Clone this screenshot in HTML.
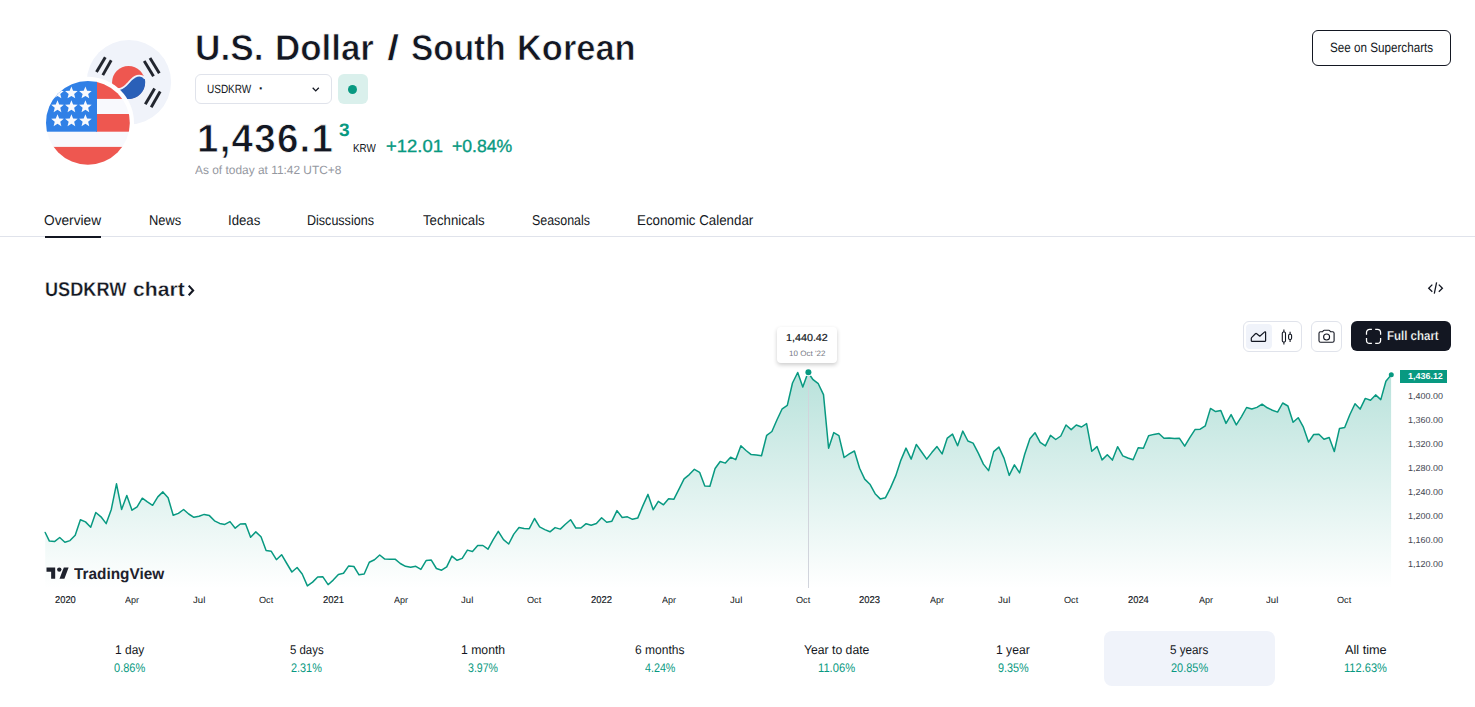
<!DOCTYPE html>
<html lang="en"><head><meta charset="utf-8"><title>USDKRW Chart — U.S. Dollar / South Korean Won</title>
<style>
*{box-sizing:border-box;margin:0;padding:0}
html,body{width:1475px;height:707px;overflow:hidden;background:#fff}
body{position:relative;font-family:"Liberation Sans",sans-serif;color:#131722;text-rendering:geometricPrecision}
.abs{position:absolute;display:block}
.t{position:absolute;white-space:nowrap;line-height:1;display:inline-block;transform-origin:0 0}
.box{position:absolute}
.w{position:absolute;left:0;top:0;width:0;height:0;font-size:0;line-height:0}
</style></head><body>
<header>

<svg class="abs" style="left:0;top:0" width="200" height="190" viewBox="0 0 200 190">
 <defs>
  <clipPath id="kc"><circle cx="128.9" cy="82.2" r="42.2"/></clipPath>
  <clipPath id="uc"><circle cx="87.9" cy="122.9" r="41.9"/></clipPath>
 </defs>
 <g clip-path="url(#kc)">
  <rect x="80" y="35" width="100" height="100" fill="#f0f3fa"/>
  <circle cx="128.5" cy="82.3" r="16.4" fill="#ee5750"/>
  <path d="M144.9,78.9 A16.4,16.4 0 0 1 112.1,85.7 C113,88 116.5,89.6 120.2,88.8 C124.3,87.9 126.2,85.2 128.6,82.5 C131,79.8 133.2,77 137.2,75.9 C140.5,75 144,76.5 144.9,78.9 Z" fill="#2a60b8"/>
  <path d="M144.9,78.9 C144,76.5 140.5,75 137.2,75.9 C133.2,77 131,79.8 128.6,82.5 C126.2,85.2 124.3,87.9 120.2,88.8 C116.5,89.6 113,88 112.1,85.7" fill="none" stroke="#f0f3fa" stroke-width="1.8"/>
  <line x1="144.2" y1="60.9" x2="153.5" y2="76.2" stroke="#22262f" stroke-width="2.9"/><line x1="150" y1="58" x2="159.3" y2="73.2" stroke="#22262f" stroke-width="2.9"/><line x1="154.6" y1="88.5" x2="145.3" y2="104.2" stroke="#22262f" stroke-width="2.9"/><line x1="160.2" y1="91.5" x2="151.2" y2="107.2" stroke="#22262f" stroke-width="2.9"/><line x1="105.3" y1="57.2" x2="96.5" y2="72" stroke="#22262f" stroke-width="2.9"/><line x1="111.2" y1="60.3" x2="102.8" y2="75.1" stroke="#22262f" stroke-width="2.9"/>
 </g>
 <circle cx="87.9" cy="122.9" r="46.1" fill="#fff"/>
 <g clip-path="url(#uc)">
  <rect x="40" y="75" width="100" height="100" fill="#f8f9fd"/>
  <rect x="96" y="75" width="50" height="23.9" fill="#ee5750"/>
  <rect x="96" y="114" width="50" height="17.7" fill="#ee5750"/>
  <rect x="40" y="146.9" width="100" height="30" fill="#ee5750"/>
  <rect x="40" y="75" width="57" height="56.7" fill="#3080e6"/>
  <polygon points="57.50,86.40 59.20,90.65 63.78,90.96 60.26,93.90 61.38,98.34 57.50,95.90 53.62,98.34 54.74,93.90 51.22,90.96 55.80,90.65" fill="#f8f9fd"/><polygon points="71.40,86.40 73.10,90.65 77.68,90.96 74.16,93.90 75.28,98.34 71.40,95.90 67.52,98.34 68.64,93.90 65.12,90.96 69.70,90.65" fill="#f8f9fd"/><polygon points="85.40,86.40 87.10,90.65 91.68,90.96 88.16,93.90 89.28,98.34 85.40,95.90 81.52,98.34 82.64,93.90 79.12,90.96 83.70,90.65" fill="#f8f9fd"/><polygon points="57.50,100.20 59.20,104.45 63.78,104.76 60.26,107.70 61.38,112.14 57.50,109.70 53.62,112.14 54.74,107.70 51.22,104.76 55.80,104.45" fill="#f8f9fd"/><polygon points="71.40,100.20 73.10,104.45 77.68,104.76 74.16,107.70 75.28,112.14 71.40,109.70 67.52,112.14 68.64,107.70 65.12,104.76 69.70,104.45" fill="#f8f9fd"/><polygon points="85.40,100.20 87.10,104.45 91.68,104.76 88.16,107.70 89.28,112.14 85.40,109.70 81.52,112.14 82.64,107.70 79.12,104.76 83.70,104.45" fill="#f8f9fd"/><polygon points="57.50,114.20 59.20,118.45 63.78,118.76 60.26,121.70 61.38,126.14 57.50,123.70 53.62,126.14 54.74,121.70 51.22,118.76 55.80,118.45" fill="#f8f9fd"/><polygon points="71.40,114.20 73.10,118.45 77.68,118.76 74.16,121.70 75.28,126.14 71.40,123.70 67.52,126.14 68.64,121.70 65.12,118.76 69.70,118.45" fill="#f8f9fd"/><polygon points="85.40,114.20 87.10,118.45 91.68,118.76 88.16,121.70 89.28,126.14 85.40,123.70 81.52,126.14 82.64,121.70 79.12,118.76 83.70,118.45" fill="#f8f9fd"/>
 </g>
</svg>
<h1 class="w"><span class="t" style="left:194.56px;top:30.00px;font-size:36.0px;font-weight:700;color:#131722;transform:scale(0.9776,1);-webkit-text-stroke:0.7px #fff;">U.S.</span> <span class="t" style="left:275.33px;top:30.00px;font-size:36.0px;font-weight:700;color:#131722;transform:scale(0.9700,1);-webkit-text-stroke:0.7px #fff;">Dollar</span> <span class="t" style="left:386.98px;top:30.00px;font-size:36.0px;font-weight:700;color:#131722;transform:scale(1.2235,1);-webkit-text-stroke:0.7px #fff;">/</span> <span class="t" style="left:410.71px;top:30.00px;font-size:36.0px;font-weight:700;color:#131722;transform:scale(0.9276,1);-webkit-text-stroke:0.7px #fff;">South</span> <span class="t" style="left:517.37px;top:30.00px;font-size:36.0px;font-weight:700;color:#131722;transform:scale(0.9566,1);-webkit-text-stroke:0.7px #fff;">Korean</span></h1>
<div class="box" style="left:195px;top:74px;width:136.500px;height:29.500px;border:1px solid #e0e3eb;border-radius:6px"></div>
<span class="t" style="left:206.87px;top:83.00px;font-size:12px;font-weight:400;color:#131722;transform:scale(0.8327,1);">USDKRW</span><span class="t" style="left:258.7px;top:81px;font-size:14px;font-weight:700;color:#131722">·</span><svg class="abs" style="left:309px;top:83px" width="14" height="12" viewBox="0 0 14 12"><path d="M3.7 4.8l3.05 3.05l3.05-3.05" fill="none" stroke="#131722" stroke-width="1.3"/></svg>
<div class="box" style="left:338px;top:74px;width:30px;height:29.500px;border-radius:6px;background:#daf0ec"></div>
<div class="box" style="left:348.2px;top:84.8px;width:9px;height:9px;border-radius:50%;background:#089981"></div>
<span class="t" style="left:196.58px;top:120.00px;font-size:39.5px;font-weight:700;color:#131722;transform:scale(0.9741,1);-webkit-text-stroke:0.8px #fff;letter-spacing:1.3px;">1,436.1</span><span class="t" style="left:339.27px;top:121.00px;font-size:18px;font-weight:700;color:#089981;transform:scale(1.0629,1);">3</span><span class="t" style="left:352.85px;top:143.00px;font-size:11.6px;font-weight:400;color:#131722;transform:scale(0.8505,1);">KRW</span><span class="w"><span class="t" style="left:386.32px;top:138.00px;font-size:17.7px;font-weight:400;color:#089981;transform:scale(1.0434,1);-webkit-text-stroke:0.35px #089981;">+12.01</span> <span class="t" style="left:452.05px;top:138.00px;font-size:17.7px;font-weight:400;color:#089981;transform:scale(0.9966,1);-webkit-text-stroke:0.35px #089981;">+0.84%</span></span><span class="t" style="left:195.10px;top:164.00px;font-size:12px;font-weight:400;color:#9598a1;transform:scale(0.9925,1);">As of today at 11:42 UTC+8</span>
<div class="box" style="left:1312px;top:30px;width:139px;height:36px;border:1px solid #131722;border-radius:6px"></div>
<span class="t" style="left:1329.95px;top:41.00px;font-size:13.5px;font-weight:400;color:#131722;transform:scale(0.8644,1);">See on Supercharts</span>
</header>
<nav>
<div class="box" style="left:0;top:236px;width:1475px;height:1px;background:#e0e3eb"></div>
<div class="box" style="left:45px;top:236px;width:56px;height:2px;background:#131722"></div>
<a class="t" style="left:44.18px;top:214.00px;font-size:14.2px;font-weight:400;color:#131722;transform:scale(0.9641,1);">Overview</a><a class="t" style="left:148.77px;top:214.00px;font-size:14.2px;font-weight:400;color:#131722;transform:scale(0.9067,1);">News</a><a class="t" style="left:228.14px;top:214.00px;font-size:14.2px;font-weight:400;color:#131722;transform:scale(0.9303,1);">Ideas</a><a class="t" style="left:307.40px;top:214.00px;font-size:14.2px;font-weight:400;color:#131722;transform:scale(0.8838,1);">Discussions</a><a class="t" style="left:422.87px;top:214.00px;font-size:14.2px;font-weight:400;color:#131722;transform:scale(0.9313,1);">Technicals</a><a class="t" style="left:532.24px;top:214.00px;font-size:14.2px;font-weight:400;color:#131722;transform:scale(0.8754,1);">Seasonals</a><a class="t" style="left:637.43px;top:214.00px;font-size:14.2px;font-weight:400;color:#131722;transform:scale(0.9391,1);">Economic Calendar</a>
</nav>
<main>
<h2 class="w"><span class="t" style="left:44.57px;top:280.00px;font-size:20px;font-weight:700;color:#131722;transform:scale(0.9068,1);-webkit-text-stroke:0.3px #fff;">USDKRW</span> <span class="t" style="left:133.34px;top:280.00px;font-size:20px;font-weight:700;color:#131722;transform:scale(1.0568,1);-webkit-text-stroke:0.3px #fff;">chart</span></h2><svg class="abs" style="left:185px;top:281px" width="12" height="18" viewBox="0 0 12 18"><path d="M3.700 4.600L8.100 9.400L3.700 14.200" fill="none" stroke="#131722" stroke-width="2.100"/></svg><svg class="abs" style="left:1425px;top:279px" width="22" height="18" viewBox="0 0 22 18"><path d="M7.300 5.600L3.700 9.200L7.300 12.700M13.800 5.600L17.400 9.200L13.800 12.700M11.600 3.400L9.300 14.600" fill="none" stroke="#131722" stroke-width="1.3"/></svg>
<div class="box" style="left:1243px;top:321px;width:59px;height:30.500px;border:1px solid #e0e3eb;border-radius:6px"></div>
<div class="box" style="left:1246px;top:324px;width:26px;height:24.500px;border-radius:4px;background:#f0f3fa"></div>
<svg class="abs" style="left:1248px;top:326px" width="22" height="22" viewBox="0 0 22 22"><path d="M3.3 14.8V12.3C3.3 11.900 3.500 11.600 3.800 11.300L7.400 7.800C7.800 7.400 8.300 7.400 8.700 7.700L11.800 10.200L16.700 5.900C17.100 5.600 17.600 5.800 17.600 6.300V14.800C17.600 15.100 17.400 15.300 17.100 15.300H3.800C3.500 15.300 3.300 15.100 3.300 14.800Z" fill="none" stroke="#131722" stroke-width="1.2" stroke-linejoin="round"/></svg><svg class="abs" style="left:1276px;top:326px" width="22" height="22" viewBox="0 0 22 22"><g fill="none" stroke="#131722" stroke-width="1.1"><rect x="6.3" y="6" width="3.2" height="10" rx="1.2"/><path d="M7.9 3.5V6M7.9 16v2.5"/><rect x="12.6" y="8.3" width="3" height="5.2" rx="1.2"/><path d="M14.1 5.8v2.5M14.1 13.5V16"/></g></svg>
<div class="box" style="left:1311px;top:321px;width:31px;height:30.500px;border:1px solid #e0e3eb;border-radius:6px"></div>
<svg class="abs" style="left:1315px;top:325px" width="24" height="24" viewBox="0 0 24 24"><g fill="none" stroke="#131722" stroke-width="1.1"><path d="M4 8.3c0-.9.7-1.6 1.6-1.6h2l.8-1.1c.2-.3.5-.4.9-.4h4.500c.4 0 .7.1.9.4l.8 1.100h2c.9 0 1.600.7 1.600 1.600v7.400c0 .9-.7 1.600-1.600 1.600H5.600c-.9 0-1.600-.7-1.600-1.600z"/><circle cx="11.600" cy="12" r="3"/></g></svg>
<div class="box" style="left:1351px;top:321px;width:100px;height:30px;border-radius:6px;background:#131722"></div>
<svg class="abs" style="left:1364px;top:327px" width="19" height="19" viewBox="0 0 19 19"><path d="M2.5 7.700V5.500A3.200 3.200 0 0 1 5.700 2.300H7.900M11.200 2.300H13.400A3.200 3.200 0 0 1 16.600 5.500V7.700M16.600 11V13.200A3.200 3.200 0 0 1 13.400 16.400H11.200M7.900 16.400H5.700A3.200 3.200 0 0 1 2.500 13.200V11" fill="none" stroke="#fff" stroke-width="1.25"/></svg><span class="t" style="left:1386.54px;top:329.00px;font-size:13px;font-weight:700;color:#fff;transform:scale(0.8835,1);-webkit-text-stroke:0.25px #131722;">Full chart</span>
<section>

<svg class="abs" style="left:0;top:0" width="1475" height="707" viewBox="0 0 1475 707">
 <defs>
  <linearGradient id="g" x1="0" y1="362" x2="0" y2="588" gradientUnits="userSpaceOnUse">
   <stop offset="0" stop-color="#089981" stop-opacity="0.30"/>
   <stop offset="1" stop-color="#089981" stop-opacity="0.0"/>
  </linearGradient>
 </defs>
 <path d="M45.2,532.5 L49.4,541.1 L54.5,541.6 L59.7,537.5 L64.9,542.2 L70.0,540.6 L75.2,535.2 L80.4,519.7 L85.5,521.9 L90.7,527.2 L95.8,512.5 L101.0,516.8 L106.2,523.6 L111.3,509.4 L116.5,483.8 L121.6,509.4 L126.8,495.5 L132.0,510.2 L137.1,506.9 L142.3,498.2 L147.4,501.8 L152.6,505.3 L157.8,496.9 L162.9,491.9 L168.1,497.7 L173.2,515.3 L178.4,513.4 L183.6,509.5 L188.7,514.0 L193.9,517.3 L199.0,516.2 L204.2,514.4 L209.4,515.6 L214.5,520.8 L219.7,523.4 L224.8,524.4 L230.0,521.6 L235.2,528.2 L240.3,524.0 L245.5,523.8 L250.6,537.2 L255.8,531.9 L261.0,536.7 L266.1,550.5 L271.3,551.3 L276.4,559.7 L281.6,554.7 L286.8,563.5 L291.9,572.0 L297.1,567.5 L302.2,574.0 L307.4,585.9 L312.6,582.1 L317.7,577.0 L322.9,576.8 L328.1,584.7 L333.2,580.1 L338.4,574.4 L343.5,573.3 L348.7,565.9 L353.9,566.5 L359.0,574.8 L364.2,574.0 L369.3,562.2 L374.5,559.7 L379.7,555.0 L384.8,559.1 L390.0,559.2 L395.1,559.2 L400.3,563.5 L405.5,566.3 L410.6,567.3 L415.8,566.3 L420.9,569.4 L426.1,560.6 L431.3,560.1 L436.4,568.5 L441.6,570.2 L446.7,566.8 L451.9,556.1 L457.1,560.3 L462.2,558.4 L467.4,550.1 L472.5,551.5 L477.7,545.5 L482.9,545.5 L488.0,549.2 L493.2,539.7 L498.3,531.3 L503.5,539.7 L508.7,544.0 L513.8,534.1 L519.0,527.5 L524.1,528.6 L529.3,528.7 L534.5,518.5 L539.6,526.9 L544.8,529.6 L550.0,531.8 L555.1,527.6 L560.3,529.1 L565.4,524.2 L570.6,519.7 L575.8,528.0 L580.9,528.0 L586.1,523.7 L591.2,525.3 L596.4,523.5 L601.6,517.8 L606.7,522.3 L611.9,521.2 L617.0,510.6 L622.2,517.5 L627.4,516.8 L632.5,519.3 L637.7,518.1 L642.8,505.9 L648.0,494.4 L653.2,509.7 L658.3,501.4 L663.5,504.8 L668.6,498.7 L673.8,499.3 L679.0,489.2 L684.1,478.8 L689.3,474.6 L694.4,469.3 L699.6,472.3 L704.8,485.9 L709.9,486.2 L715.1,468.5 L720.2,461.5 L725.4,463.1 L730.6,457.2 L735.7,459.7 L740.9,445.8 L746.0,450.5 L751.2,454.6 L756.4,455.0 L761.5,455.7 L766.7,435.3 L771.9,431.5 L777.0,419.7 L782.2,408.8 L787.3,405.4 L792.5,383.0 L797.7,372.5 L802.8,387.1 L808.0,372.5 L813.1,379.7 L818.3,383.7 L823.5,394.6 L828.6,448.2 L833.8,432.6 L838.9,435.6 L844.1,457.5 L849.3,453.9 L854.4,451.0 L859.6,468.2 L864.7,479.1 L869.9,484.2 L875.1,493.7 L880.2,498.9 L885.4,497.8 L890.5,487.9 L895.7,475.9 L900.9,460.1 L906.0,448.1 L911.2,459.1 L916.3,444.4 L921.5,451.8 L926.7,459.1 L931.8,452.6 L937.0,446.6 L942.1,453.9 L947.3,438.1 L952.5,434.1 L957.6,445.8 L962.8,431.1 L967.9,441.0 L973.1,443.1 L978.3,453.1 L983.4,464.1 L988.6,470.6 L993.7,451.6 L998.9,447.1 L1004.1,458.4 L1009.2,475.4 L1014.4,464.9 L1019.6,472.9 L1024.7,454.3 L1029.9,438.7 L1035.0,432.7 L1040.2,442.4 L1045.4,445.9 L1050.5,435.4 L1055.7,439.5 L1060.8,436.0 L1066.0,425.0 L1071.2,429.6 L1076.3,425.0 L1081.5,427.0 L1086.6,423.6 L1091.8,451.3 L1097.0,446.6 L1102.1,459.9 L1107.3,454.7 L1112.4,460.1 L1117.6,446.7 L1122.8,455.9 L1127.9,458.0 L1133.1,459.7 L1138.2,447.8 L1143.4,448.3 L1148.6,435.8 L1153.7,434.4 L1158.9,433.5 L1164.0,438.3 L1169.2,438.0 L1174.4,438.6 L1179.5,438.3 L1184.7,446.2 L1189.8,437.6 L1195.0,429.6 L1200.2,429.2 L1205.3,425.8 L1210.5,408.4 L1215.6,411.6 L1220.8,410.5 L1226.0,423.4 L1231.1,414.6 L1236.3,424.9 L1241.5,416.6 L1246.6,407.5 L1251.8,409.0 L1256.9,407.4 L1262.1,404.2 L1267.3,407.8 L1272.4,410.2 L1277.6,412.1 L1282.7,403.0 L1287.9,406.0 L1293.1,422.2 L1298.2,417.7 L1303.4,427.2 L1308.5,442.1 L1313.7,434.5 L1318.9,434.2 L1324.0,439.3 L1329.2,437.5 L1334.3,451.5 L1339.5,428.4 L1344.7,427.5 L1349.8,414.7 L1355.0,403.7 L1360.1,409.1 L1365.3,398.4 L1370.5,400.2 L1375.6,394.9 L1380.8,399.6 L1385.9,381.3 L1391.1,374.9 L1391.1,588 L45.2,588 Z" fill="url(#g)"/>
 <line x1="808.5" y1="372" x2="808.5" y2="588" stroke="#d1d4dc" stroke-width="1"/>
 <path d="M45.2,532.5 L49.4,541.1 L54.5,541.6 L59.7,537.5 L64.9,542.2 L70.0,540.6 L75.2,535.2 L80.4,519.7 L85.5,521.9 L90.7,527.2 L95.8,512.5 L101.0,516.8 L106.2,523.6 L111.3,509.4 L116.5,483.8 L121.6,509.4 L126.8,495.5 L132.0,510.2 L137.1,506.9 L142.3,498.2 L147.4,501.8 L152.6,505.3 L157.8,496.9 L162.9,491.9 L168.1,497.7 L173.2,515.3 L178.4,513.4 L183.6,509.5 L188.7,514.0 L193.9,517.3 L199.0,516.2 L204.2,514.4 L209.4,515.6 L214.5,520.8 L219.7,523.4 L224.8,524.4 L230.0,521.6 L235.2,528.2 L240.3,524.0 L245.5,523.8 L250.6,537.2 L255.8,531.9 L261.0,536.7 L266.1,550.5 L271.3,551.3 L276.4,559.7 L281.6,554.7 L286.8,563.5 L291.9,572.0 L297.1,567.5 L302.2,574.0 L307.4,585.9 L312.6,582.1 L317.7,577.0 L322.9,576.8 L328.1,584.7 L333.2,580.1 L338.4,574.4 L343.5,573.3 L348.7,565.9 L353.9,566.5 L359.0,574.8 L364.2,574.0 L369.3,562.2 L374.5,559.7 L379.7,555.0 L384.8,559.1 L390.0,559.2 L395.1,559.2 L400.3,563.5 L405.5,566.3 L410.6,567.3 L415.8,566.3 L420.9,569.4 L426.1,560.6 L431.3,560.1 L436.4,568.5 L441.6,570.2 L446.7,566.8 L451.9,556.1 L457.1,560.3 L462.2,558.4 L467.4,550.1 L472.5,551.5 L477.7,545.5 L482.9,545.5 L488.0,549.2 L493.2,539.7 L498.3,531.3 L503.5,539.7 L508.7,544.0 L513.8,534.1 L519.0,527.5 L524.1,528.6 L529.3,528.7 L534.5,518.5 L539.6,526.9 L544.8,529.6 L550.0,531.8 L555.1,527.6 L560.3,529.1 L565.4,524.2 L570.6,519.7 L575.8,528.0 L580.9,528.0 L586.1,523.7 L591.2,525.3 L596.4,523.5 L601.6,517.8 L606.7,522.3 L611.9,521.2 L617.0,510.6 L622.2,517.5 L627.4,516.8 L632.5,519.3 L637.7,518.1 L642.8,505.9 L648.0,494.4 L653.2,509.7 L658.3,501.4 L663.5,504.8 L668.6,498.7 L673.8,499.3 L679.0,489.2 L684.1,478.8 L689.3,474.6 L694.4,469.3 L699.6,472.3 L704.8,485.9 L709.9,486.2 L715.1,468.5 L720.2,461.5 L725.4,463.1 L730.6,457.2 L735.7,459.7 L740.9,445.8 L746.0,450.5 L751.2,454.6 L756.4,455.0 L761.5,455.7 L766.7,435.3 L771.9,431.5 L777.0,419.7 L782.2,408.8 L787.3,405.4 L792.5,383.0 L797.7,372.5 L802.8,387.1 L808.0,372.5 L813.1,379.7 L818.3,383.7 L823.5,394.6 L828.6,448.2 L833.8,432.6 L838.9,435.6 L844.1,457.5 L849.3,453.9 L854.4,451.0 L859.6,468.2 L864.7,479.1 L869.9,484.2 L875.1,493.7 L880.2,498.9 L885.4,497.8 L890.5,487.9 L895.7,475.9 L900.9,460.1 L906.0,448.1 L911.2,459.1 L916.3,444.4 L921.5,451.8 L926.7,459.1 L931.8,452.6 L937.0,446.6 L942.1,453.9 L947.3,438.1 L952.5,434.1 L957.6,445.8 L962.8,431.1 L967.9,441.0 L973.1,443.1 L978.3,453.1 L983.4,464.1 L988.6,470.6 L993.7,451.6 L998.9,447.1 L1004.1,458.4 L1009.2,475.4 L1014.4,464.9 L1019.6,472.9 L1024.7,454.3 L1029.9,438.7 L1035.0,432.7 L1040.2,442.4 L1045.4,445.9 L1050.5,435.4 L1055.7,439.5 L1060.8,436.0 L1066.0,425.0 L1071.2,429.6 L1076.3,425.0 L1081.5,427.0 L1086.6,423.6 L1091.8,451.3 L1097.0,446.6 L1102.1,459.9 L1107.3,454.7 L1112.4,460.1 L1117.6,446.7 L1122.8,455.9 L1127.9,458.0 L1133.1,459.7 L1138.2,447.8 L1143.4,448.3 L1148.6,435.8 L1153.7,434.4 L1158.9,433.5 L1164.0,438.3 L1169.2,438.0 L1174.4,438.6 L1179.5,438.3 L1184.7,446.2 L1189.8,437.6 L1195.0,429.6 L1200.2,429.2 L1205.3,425.8 L1210.5,408.4 L1215.6,411.6 L1220.8,410.5 L1226.0,423.4 L1231.1,414.6 L1236.3,424.9 L1241.5,416.6 L1246.6,407.5 L1251.8,409.0 L1256.9,407.4 L1262.1,404.2 L1267.3,407.8 L1272.4,410.2 L1277.6,412.1 L1282.7,403.0 L1287.9,406.0 L1293.1,422.2 L1298.2,417.7 L1303.4,427.2 L1308.5,442.1 L1313.7,434.5 L1318.9,434.2 L1324.0,439.3 L1329.2,437.5 L1334.3,451.5 L1339.5,428.4 L1344.7,427.5 L1349.8,414.7 L1355.0,403.7 L1360.1,409.1 L1365.3,398.4 L1370.5,400.2 L1375.6,394.9 L1380.8,399.6 L1385.9,381.3 L1391.1,374.9" fill="none" stroke="#089981" stroke-width="1.500" stroke-linejoin="round" stroke-linecap="round"/>
 <circle cx="808.4" cy="372.2" r="4" fill="#fff"/>
 <circle cx="808.4" cy="372.2" r="3" fill="#089981"/>
 <circle cx="1391.3" cy="374.8" r="2.500" fill="#089981"/>
 <rect x="1400" y="370" width="47" height="13" fill="#089981"/>
</svg>
<span class="t" style="left:1407.78px;top:372.00px;font-size:8.7px;font-weight:700;color:#fff;transform:scale(1.0303,1);">1,436.12</span><span class="t" style="left:1407.53px;top:392.00px;font-size:8.7px;font-weight:400;color:#434651;transform:scale(1.0321,1);">1,400.00</span><span class="t" style="left:1407.53px;top:416.00px;font-size:8.7px;font-weight:400;color:#434651;transform:scale(1.0321,1);">1,360.00</span><span class="t" style="left:1407.53px;top:440.00px;font-size:8.7px;font-weight:400;color:#434651;transform:scale(1.0321,1);">1,320.00</span><span class="t" style="left:1407.53px;top:464.00px;font-size:8.7px;font-weight:400;color:#434651;transform:scale(1.0321,1);">1,280.00</span><span class="t" style="left:1407.53px;top:488.00px;font-size:8.7px;font-weight:400;color:#434651;transform:scale(1.0321,1);">1,240.00</span><span class="t" style="left:1407.53px;top:512.00px;font-size:8.7px;font-weight:400;color:#434651;transform:scale(1.0321,1);">1,200.00</span><span class="t" style="left:1407.53px;top:536.00px;font-size:8.7px;font-weight:400;color:#434651;transform:scale(1.0321,1);">1,160.00</span><span class="t" style="left:1407.53px;top:560.00px;font-size:8.7px;font-weight:400;color:#434651;transform:scale(1.0321,1);">1,120.00</span><span class="t" style="left:54.53px;top:596.00px;font-size:9.9px;font-weight:400;color:#131722;transform:scale(0.9459,1);-webkit-text-stroke:0.15px #131722;">2020</span><span class="t" style="left:125.30px;top:596.00px;font-size:9.0px;font-weight:400;color:#131722;transform:scale(1.0036,1);">Apr</span><span class="t" style="left:193.18px;top:596.00px;font-size:9.0px;font-weight:400;color:#131722;transform:scale(1.0698,1);">Jul</span><span class="t" style="left:258.54px;top:596.00px;font-size:9.0px;font-weight:400;color:#131722;transform:scale(1.0148,1);">Oct</span><span class="t" style="left:322.77px;top:596.00px;font-size:9.9px;font-weight:400;color:#131722;transform:scale(0.9571,1);-webkit-text-stroke:0.15px #131722;">2021</span><span class="t" style="left:393.70px;top:596.00px;font-size:9.0px;font-weight:400;color:#131722;transform:scale(1.0036,1);">Apr</span><span class="t" style="left:461.28px;top:596.00px;font-size:9.0px;font-weight:400;color:#131722;transform:scale(1.0698,1);">Jul</span><span class="t" style="left:526.94px;top:596.00px;font-size:9.0px;font-weight:400;color:#131722;transform:scale(1.0148,1);">Oct</span><span class="t" style="left:591.37px;top:596.00px;font-size:9.9px;font-weight:400;color:#131722;transform:scale(0.9571,1);-webkit-text-stroke:0.15px #131722;">2022</span><span class="t" style="left:662.10px;top:596.00px;font-size:9.0px;font-weight:400;color:#131722;transform:scale(1.0036,1);">Apr</span><span class="t" style="left:729.98px;top:596.00px;font-size:9.0px;font-weight:400;color:#131722;transform:scale(1.0698,1);">Jul</span><span class="t" style="left:795.64px;top:596.00px;font-size:9.0px;font-weight:400;color:#131722;transform:scale(1.0148,1);">Oct</span><span class="t" style="left:859.47px;top:596.00px;font-size:9.9px;font-weight:400;color:#131722;transform:scale(0.9571,1);-webkit-text-stroke:0.15px #131722;">2023</span><span class="t" style="left:930.30px;top:596.00px;font-size:9.0px;font-weight:400;color:#131722;transform:scale(1.0036,1);">Apr</span><span class="t" style="left:998.38px;top:596.00px;font-size:9.0px;font-weight:400;color:#131722;transform:scale(1.0698,1);">Jul</span><span class="t" style="left:1063.64px;top:596.00px;font-size:9.0px;font-weight:400;color:#131722;transform:scale(1.0148,1);">Oct</span><span class="t" style="left:1127.88px;top:596.00px;font-size:9.9px;font-weight:400;color:#131722;transform:scale(0.9459,1);-webkit-text-stroke:0.15px #131722;">2024</span><span class="t" style="left:1198.50px;top:596.00px;font-size:9.0px;font-weight:400;color:#131722;transform:scale(1.0036,1);">Apr</span><span class="t" style="left:1266.18px;top:596.00px;font-size:9.0px;font-weight:400;color:#131722;transform:scale(1.0698,1);">Jul</span><span class="t" style="left:1337.34px;top:596.00px;font-size:9.0px;font-weight:400;color:#131722;transform:scale(1.0148,1);">Oct</span>
<div class="box" style="left:777px;top:327px;width:60px;height:36px;border-radius:4px;background:#fff;box-shadow:0 2px 4px rgba(0,0,0,.2)"></div>
<span class="t" style="left:786.41px;top:334.00px;font-size:10.2px;font-weight:400;color:#131722;transform:scale(1.0545,1);-webkit-text-stroke:0.2px #131722;">1,440.42</span><span class="t" style="left:788.88px;top:350.00px;font-size:7.8px;font-weight:400;color:#787b86;transform:scale(1.0319,1);">10 Oct &#39;22</span>
<svg class="abs" style="left:40px;top:560px" width="40" height="26" viewBox="40 560 40 26"><g fill="#1e222d" stroke="#fff" stroke-opacity=".75" stroke-width="1.6" paint-order="stroke"><path d="M46.5 567.5H55.2V578.7H51.15V571.8H46.5z"/><circle cx="59.3" cy="569.6" r="2.2"/><path d="M63.8 567.5H68.65L64.4 578.7H59.5z"/></g></svg><span class="t" style="left:74.35px;top:567.00px;font-size:15.6px;font-weight:700;color:#1e222d;transform:scale(0.9852,1);">TradingView</span>
</section>
<div class="box" style="left:1104px;top:630.500px;width:171px;height:55px;border-radius:8px;background:#f0f3fa"></div>
<span class="t" style="left:115.35px;top:644.00px;font-size:12.6px;font-weight:400;color:#131722;transform:scale(0.9513,1);">1 day</span><span class="t" style="left:114.36px;top:662.00px;font-size:12.5px;font-weight:400;color:#089981;transform:scale(0.8812,1);">0.86%</span><span class="t" style="left:290.05px;top:644.00px;font-size:12.6px;font-weight:400;color:#131722;transform:scale(0.9048,1);">5 days</span><span class="t" style="left:291.35px;top:662.00px;font-size:12.5px;font-weight:400;color:#089981;transform:scale(0.8701,1);">2.31%</span><span class="t" style="left:461.33px;top:644.00px;font-size:12.6px;font-weight:400;color:#131722;transform:scale(0.9691,1);">1 month</span><span class="t" style="left:468.48px;top:662.00px;font-size:12.5px;font-weight:400;color:#089981;transform:scale(0.8464,1);">3.97%</span><span class="t" style="left:634.68px;top:644.00px;font-size:12.6px;font-weight:400;color:#131722;transform:scale(0.9564,1);">6 months</span><span class="t" style="left:644.69px;top:662.00px;font-size:12.5px;font-weight:400;color:#089981;transform:scale(0.8576,1);">4.24%</span><span class="t" style="left:804.02px;top:644.00px;font-size:12.6px;font-weight:400;color:#131722;transform:scale(0.9691,1);">Year to date</span><span class="t" style="left:817.90px;top:662.00px;font-size:12.5px;font-weight:400;color:#089981;transform:scale(0.8950,1);">11.06%</span><span class="t" style="left:996.24px;top:644.00px;font-size:12.6px;font-weight:400;color:#131722;transform:scale(0.9630,1);">1 year</span><span class="t" style="left:997.97px;top:662.00px;font-size:12.5px;font-weight:400;color:#089981;transform:scale(0.8667,1);">9.35%</span><span class="t" style="left:1170.24px;top:644.00px;font-size:12.6px;font-weight:400;color:#131722;transform:scale(0.9267,1);">5 years</span><span class="t" style="left:1170.64px;top:662.00px;font-size:12.5px;font-weight:400;color:#089981;transform:scale(0.8752,1);">20.85%</span><span class="t" style="left:1345.30px;top:644.00px;font-size:12.6px;font-weight:400;color:#131722;transform:scale(1.0086,1);">All time</span><span class="t" style="left:1344.41px;top:662.00px;font-size:12.5px;font-weight:400;color:#089981;transform:scale(0.8872,1);">112.63%</span>
</main>
</body></html>
